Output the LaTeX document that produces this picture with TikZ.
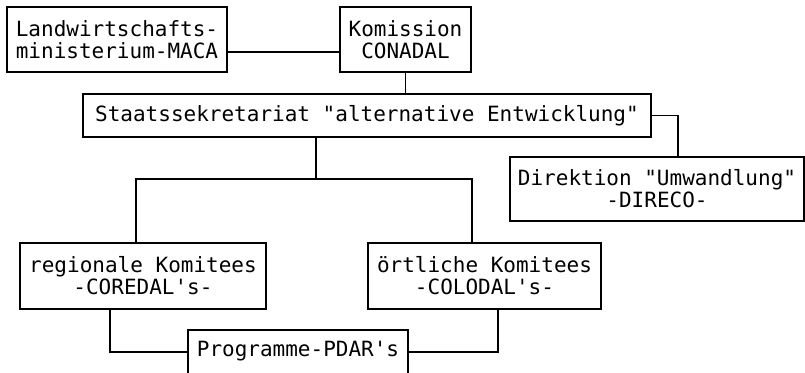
\documentclass[tikz,border=0pt]{standalone}
\usepackage{fontspec}
\setmonofont{DejaVu Sans Mono}
\begin{document}
\begin{tikzpicture}[x=1pt,y=1pt,
  box/.style={draw,line width=1.1pt,inner sep=0pt,align=center,
    font=\ttfamily\fontsize{21}{22}\selectfont},
  conn/.style={line width=1.1pt}]
\useasboundingbox (0,0) rectangle (805,372);
\node[box,minimum width=220pt,minimum height=65pt] (land) at (117,332.5)
  {Landwirtschafts-\\ministerium-MACA};
\node[box,minimum width=131pt,minimum height=65pt] (kom) at (405.5,332.5)
  {Komission\\CONADAL};
\node[box,minimum width=568pt,minimum height=43pt] (staat) at (367,256.5)
  {Staatssekretariat "alternative Entwicklung"};
\node[box,minimum width=294pt,minimum height=64pt] (dir) at (657,183)
  {Direktion "Umwandlung"\\-DIRECO-};
\node[box,minimum width=246pt,minimum height=66pt] (reg) at (143,96)
  {regionale Komitees\\-COREDAL's-};
\node[box,minimum width=233pt,minimum height=66pt] (ort) at (484.5,96)
  {örtliche Komitees\\-COLODAL's-};
\node[box,minimum width=220pt,minimum height=60pt] (prog) at (298,12)
  {Programme-PDAR's\\\phantom{x}};
\coordinate (b) at (316,193);
\draw[conn] ([yshift=-12.5pt]land.east) -- ([yshift=-12.5pt]kom.west);
\draw[conn] (kom.south) -- (kom.south |- staat.north);
\draw[conn] (b |- staat.south) -- (b);
\draw[conn] ([xshift=-7pt]reg.north) |- (b) -| ([xshift=-12.5pt]ort.north);
\draw[conn] (staat.east) -| ([xshift=21pt]dir.north);
\draw[conn] ([xshift=-33pt]reg.south) |- ([yshift=8pt]prog.west);
\draw[conn] ([xshift=13.5pt]ort.south) |- ([yshift=8pt]prog.east);
\end{tikzpicture}
\end{document}
